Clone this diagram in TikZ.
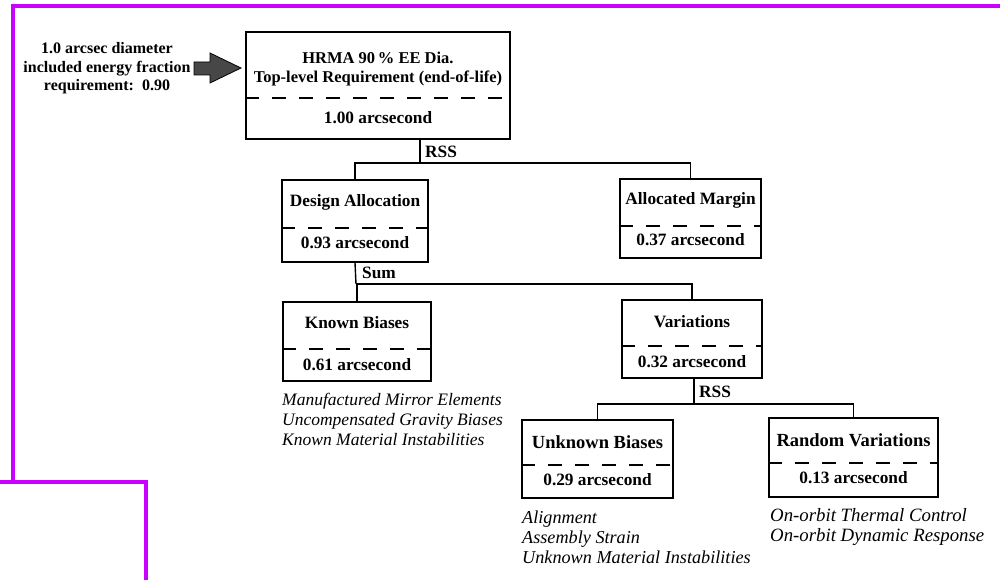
\documentclass[tikz,border=0pt]{standalone}
\usepackage{fontspec}
\setmainfont{Liberation Serif}
\definecolor{frame}{HTML}{CC00FF}
\begin{document}
\begin{tikzpicture}[x=1pt,y=-1pt,
  box/.style={draw, line width=1.5pt, inner sep=0pt, rectangle},
  dl/.style={line width=2pt, dash pattern=on 14pt off 13pt},
  conn/.style={line width=1.4pt},
  bt/.style={font=\fontsize{17.3}{19}\selectfont\bfseries, inner sep=0pt, align=center},
  it/.style={font=\fontsize{17.5}{20}\selectfont\itshape, inner sep=0pt, align=left, anchor=west},
  mag/.style={draw=frame, line width=4pt}]
\useasboundingbox (0,0) rectangle (1000,580);
\fill[white] (0,0) rectangle (1000,580);
% magenta frame
\draw[mag] (1004,6) -- (13,6) -- (13,482);
\draw[mag] (-4,482) -- (146,482) -- (146,584);

% boxes
\node[box, minimum width=264pt, minimum height=107pt] (top) at (378,85.5) {};
\node[box, minimum width=146pt, minimum height=82pt] (da) at (355,221) {};
\node[box, minimum width=141pt, minimum height=79pt] (am) at (690.5,218.5) {};
\node[box, minimum width=148pt, minimum height=79pt] (kb) at (357,341.5) {};
\node[box, minimum width=140pt, minimum height=78pt] (var) at (692,339) {};
\node[box, minimum width=151pt, minimum height=78pt] (ub) at (597.5,459) {};
\node[box, minimum width=169pt, minimum height=79pt] (rv) at (853.5,457.5) {};

% dashed separators
\draw[dl] (top.west |- 0,98) -- (top.east |- 0,98);
\draw[dl] (da.west |- 0,228) -- (da.east |- 0,228);
\draw[dl] (am.west |- 0,226) -- (am.east |- 0,226);
\draw[dl] (kb.west |- 0,349) -- (kb.east |- 0,349);
\draw[dl] (var.west |- 0,346) -- (var.east |- 0,346);
\draw[dl] (ub.west |- 0,465) -- (ub.east |- 0,465);
\draw[dl] (rv.west |- 0,463) -- (rv.east |- 0,463);

% texts in boxes
\node[bt, font=\fontsize{16.5}{19}\selectfont\bfseries] (topt) at (378,69.5) {HRMA 90\,\% EE Dia.\\Top-level Requirement (end-of-life)};
\node[bt] (topv) at (378,118) {1.00 arcsecond};
\node[bt] (dat) at (355,202) {Design Allocation};
\node[bt] (dav) at (355,243) {0.93 arcsecond};
\node[bt] (amt) at (690.5,200) {Allocated Margin};
\node[bt] (amv) at (690.5,240) {0.37 arcsecond};
\node[bt] (kbt) at (357,323) {Known Biases};
\node[bt] (kbv) at (357,365) {0.61 arcsecond};
\node[bt] (vart) at (692,322) {Variations};
\node[bt] (varv) at (692,362) {0.32 arcsecond};
\node[bt, font=\fontsize{18.5}{19}\selectfont\bfseries] (ubt) at (597.5,442) {Unknown Biases};
\node[bt] (ubv) at (597.5,480) {0.29 arcsecond};
\node[bt, font=\fontsize{18.5}{19}\selectfont\bfseries] (rvt) at (853.5,440) {Random Variations};
\node[bt] (rvv) at (853.5,478) {0.13 arcsecond};

% input requirement and arrow
\node[bt, font=\fontsize{16}{18.5}\selectfont\bfseries] (req) at (107,68.5) {1.0 arcsec diameter\\included energy fraction\\requirement:\ \ 0.90};
\draw[fill=black!72, line width=0.8pt] (194,62) -- (210,62) -- (210,53) -- (241,68) -- (210,83) -- (210,75) -- (194,75) -- cycle;

% connectors
\coordinate (j1) at (420,163);
\coordinate (j2) at (356,284);
\coordinate (j3) at (694,404);
\draw[conn] (top.south -| j1) -- (j1);
\draw[conn] (da.north) |- (j1) -| (am.north);
\draw[conn] (da.south) -- (j2);
\draw[conn] (kb.north) |- (j2) -| (var.north);
\draw[conn] (var.south -| j3) -- (j3);
\draw[conn] (ub.north) |- (j3) -| (rv.north);

\node[bt, anchor=west] (rss1) at (425,152) {RSS};
\node[bt, anchor=west] (sum) at (362,273) {Sum};
\node[bt, anchor=west] (rss2) at (699,392) {RSS};

% notes
\node[it] (kbn) at (282,419.5) {Manufactured Mirror Elements\\Uncompensated Gravity Biases\\Known Material Instabilities};
\node[it, font=\fontsize{18.2}{20}\selectfont\itshape] (ubn) at (522,537) {Alignment\\Assembly Strain\\Unknown Material Instabilities};
\node[it, font=\fontsize{18.8}{20}\selectfont\itshape] (rvn) at (770,527) {On-orbit Thermal Control\\On-orbit Dynamic Response};
\end{tikzpicture}
\end{document}
